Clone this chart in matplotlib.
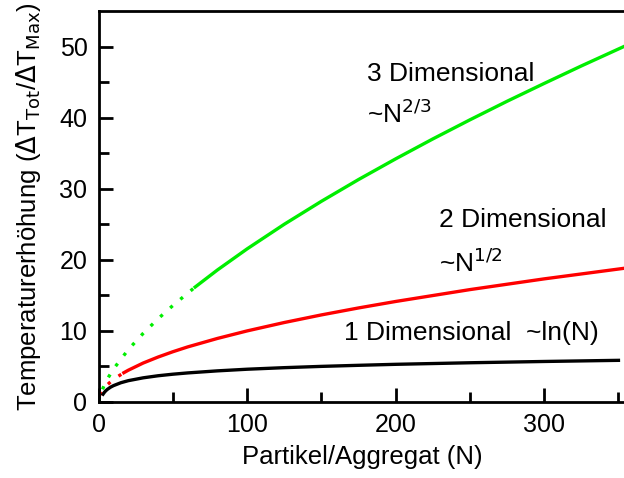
import numpy as np
import matplotlib.pyplot as plt

plt.rcParams['font.family'] = ['Liberation Sans', 'DejaVu Sans']

# 1D chain: ~ln(N)
n_1d = [3, 4, 5, 6, 8, 10, 15, 20, 30, 40, 50, 60, 80, 100, 125, 150, 175,
        200, 250, 300, 350]
t_1d = [1.10, 1.39, 1.61, 1.79, 2.08, 2.30, 2.71, 3.00, 3.40, 3.69, 3.91,
        4.09, 4.38, 4.61, 4.83, 5.01, 5.16, 5.30, 5.52, 5.70, 5.86]

# 2D sheet: ~N^(1/2), dotted for small N
n_2d_dot = [1, 2, 4, 6, 9, 12, 17]
t_2d_dot = [1.0, 1.41, 2.0, 2.45, 3.0, 3.46, 4.12]
n_2d = [17, 20, 30, 40, 50, 60, 80, 100, 125, 150, 175, 200, 250, 300, 355]
t_2d = [4.12, 4.47, 5.48, 6.32, 7.07, 7.75, 8.94, 10.0, 11.18, 12.25, 13.23,
        14.14, 15.81, 17.32, 18.84]

# 3D cluster: ~N^(2/3), dotted for small N
n_3d_dot = [0, 1, 5, 10, 20, 30, 40, 50, 65]
t_3d_dot = [0.0, 1.0, 2.92, 4.64, 7.37, 9.65, 11.70, 13.57, 16.17]
n_3d = [65, 80, 100, 125, 150, 175, 200, 225, 250, 275, 300, 325, 355]
t_3d = [16.17, 18.57, 21.54, 25.0, 28.23, 31.29, 34.20, 37.0, 39.69, 42.3,
        44.81, 47.27, 50.13]

fig = plt.figure(figsize=(6.24, 4.78), dpi=100)
ax = fig.add_axes([0.158, 0.159, 0.845, 0.818])

lw = 2.4
dots = (0, (1, 3))
ax.plot(n_3d_dot, t_3d_dot, color='#00ee00', lw=lw, ls=dots)
ax.plot(n_3d, t_3d, color='#00ee00', lw=lw)
ax.plot(n_2d_dot, t_2d_dot, color='red', lw=lw, ls=dots)
ax.plot(n_2d, t_2d, color='red', lw=lw)
ax.plot(n_1d, t_1d, color='black', lw=lw)

fs = 19
ax.text(181, 46.2, '3 Dimensional', fontsize=fs, va='center')
ax.text(181, 40.5, r'~N$^{2/3}$', fontsize=fs, va='center')
ax.text(229, 25.6, '2 Dimensional', fontsize=fs, va='center')
ax.text(229, 19.6, r'~N$^{1/2}$', fontsize=fs, va='center')
ax.text(165, 9.7, '1 Dimensional  ~ln(N)', fontsize=fs, va='center')

ax.set_xlim(0, 355)
ax.set_ylim(0, 55)
ax.set_xticks([0, 100, 200, 300])
ax.set_xticks([50, 150, 250, 350], minor=True)
ax.set_yticks([0, 10, 20, 30, 40, 50])
ax.set_yticks([5, 15, 25, 35, 45], minor=True)
ax.tick_params(which='both', direction='in', width=2, labelsize=18, pad=8)
ax.tick_params(which='major', length=10)
ax.tick_params(which='minor', length=7)
for sp in ax.spines.values():
    sp.set_linewidth(2)

ax.set_xlabel('Partikel/Aggregat (N)', fontsize=18.5, labelpad=6)
ax.set_ylabel(r'Temperaturerhöhung ($\Delta$T$_{\mathrm{Tot}}$/$\Delta$T$_{\mathrm{Max}}$)',
              fontsize=18.5, labelpad=12)

fig.savefig('out.png', dpi=100)
